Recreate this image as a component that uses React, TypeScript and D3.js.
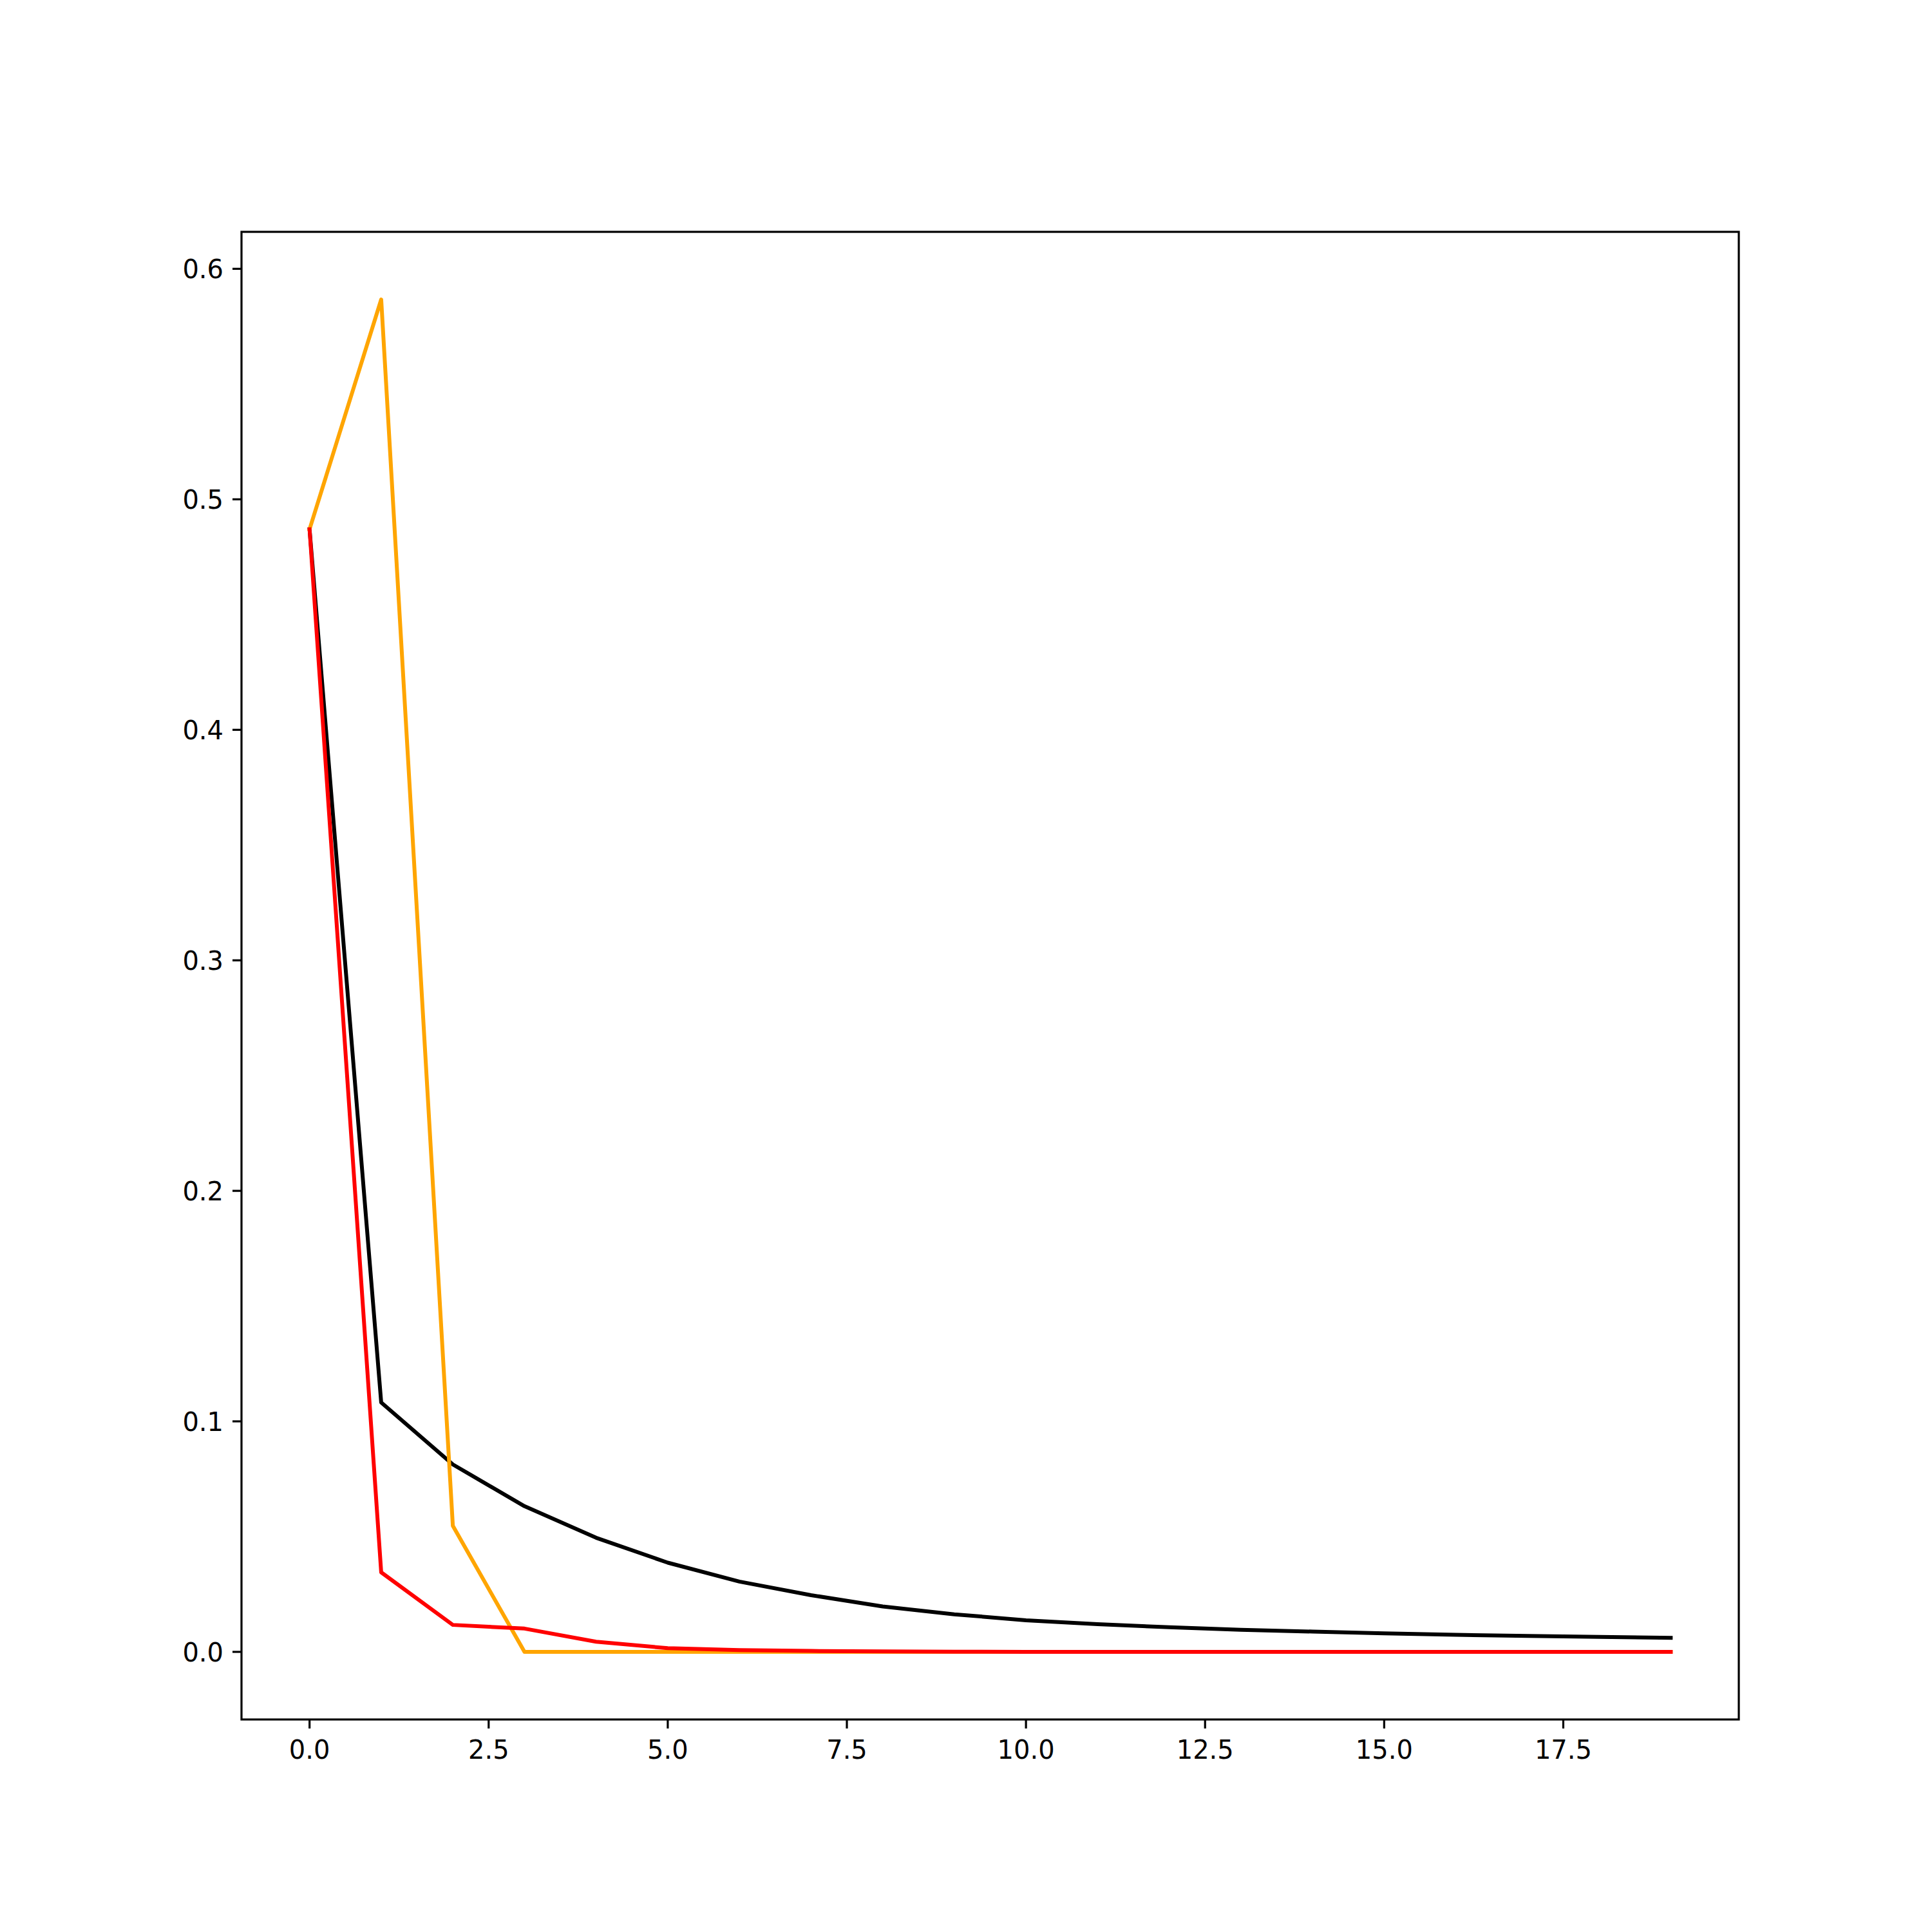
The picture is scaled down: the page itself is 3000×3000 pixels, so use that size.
import React from "react";
import * as d3 from "d3";

const xs: number[] = Array.from({ length: 20 }, (_, i) => i);

const blackSeries: number[] = [
  0.487, 0.1082, 0.0813, 0.0632, 0.0495, 0.0387, 0.0305, 0.0246, 0.0197, 0.0163,
  0.0137, 0.012, 0.0107, 0.0096, 0.0088, 0.008, 0.0074, 0.0069, 0.0065, 0.0061,
];
const orangeSeries: number[] = [
  0.487, 0.5867, 0.0547, 0, 0, 0, 0, 0, 0, 0, 0, 0, 0, 0, 0, 0, 0, 0, 0, 0,
];
const redSeries: number[] = [
  0.487, 0.0345, 0.0117, 0.0101, 0.0044, 0.0016, 0.0008, 0.0004, 0.0002, 0.0001,
  0, 0, 0, 0, 0, 0, 0, 0, 0, 0,
];

const xTicks: number[] = [0, 2.5, 5, 7.5, 10, 12.5, 15, 17.5];
const yTicks: number[] = [0, 0.1, 0.2, 0.3, 0.4, 0.5, 0.6];

const series = [
  { values: blackSeries, color: "#000000" },
  { values: orangeSeries, color: "#FFA500" },
  { values: redSeries, color: "#FF0000" },
];

export default function App() {
  const W = 3000, H = 3000;
  const left = 375, right = 2700, top = 360, bottom = 2670;

  const allVals = [...blackSeries, ...orangeSeries, ...redSeries];
  const yMinD = d3.min(allVals)!;
  const yMaxD = d3.max(allVals)!;
  const yPad = (yMaxD - yMinD) * 0.05;
  const xPad = (19 - 0) * 0.05;

  const x = d3.scaleLinear().domain([0 - xPad, 19 + xPad]).range([left, right]);
  const y = d3.scaleLinear().domain([yMinD - yPad, yMaxD + yPad]).range([bottom, top]);

  const line = d3
    .line<number>()
    .x((_, i) => x(xs[i]))
    .y((d) => y(d));

  const font = "DejaVu Sans, sans-serif";
  const fs = 40;
  const tickLen = 14;
  const tickW = 3.2;

  return (
    <svg
      width={W}
      height={H}
      style={{ position: "absolute", left: 0, top: 0, background: "#fff" }}
    >
      <rect x={0} y={0} width={W} height={H} fill="#fff" />
      <defs>
        <clipPath id="plotclip">
          <rect x={left} y={top} width={right - left} height={bottom - top} />
        </clipPath>
      </defs>
      <g clipPath="url(#plotclip)">
        {series.map((s, i) => (
          <path
            key={i}
            d={line(s.values) || ""}
            fill="none"
            stroke={s.color}
            strokeWidth={6}
            strokeLinejoin="round"
            strokeLinecap="square"
          />
        ))}
      </g>
      <rect
        x={left}
        y={top}
        width={right - left}
        height={bottom - top}
        fill="none"
        stroke="#000"
        strokeWidth={3.2}
        strokeLinejoin="miter"
      />
      {xTicks.map((t) => (
        <g key={"x" + t}>
          <line
            x1={x(t)}
            x2={x(t)}
            y1={bottom}
            y2={bottom + tickLen}
            stroke="#000"
            strokeWidth={tickW}
          />
          <text
            x={x(t)}
            y={2731}
            fontFamily={font}
            fontSize={fs}
            textAnchor="middle"
            fill="#000"
          >
            {d3.format(".1f")(t)}
          </text>
        </g>
      ))}
      {yTicks.map((t) => (
        <g key={"y" + t}>
          <line
            x1={left - tickLen}
            x2={left}
            y1={y(t)}
            y2={y(t)}
            stroke="#000"
            strokeWidth={tickW}
          />
          <text
            x={left - tickLen - 14}
            y={y(t) + 14.5}
            fontFamily={font}
            fontSize={fs}
            textAnchor="end"
            fill="#000"
          >
            {d3.format(".1f")(t)}
          </text>
        </g>
      ))}
    </svg>
  );
}
